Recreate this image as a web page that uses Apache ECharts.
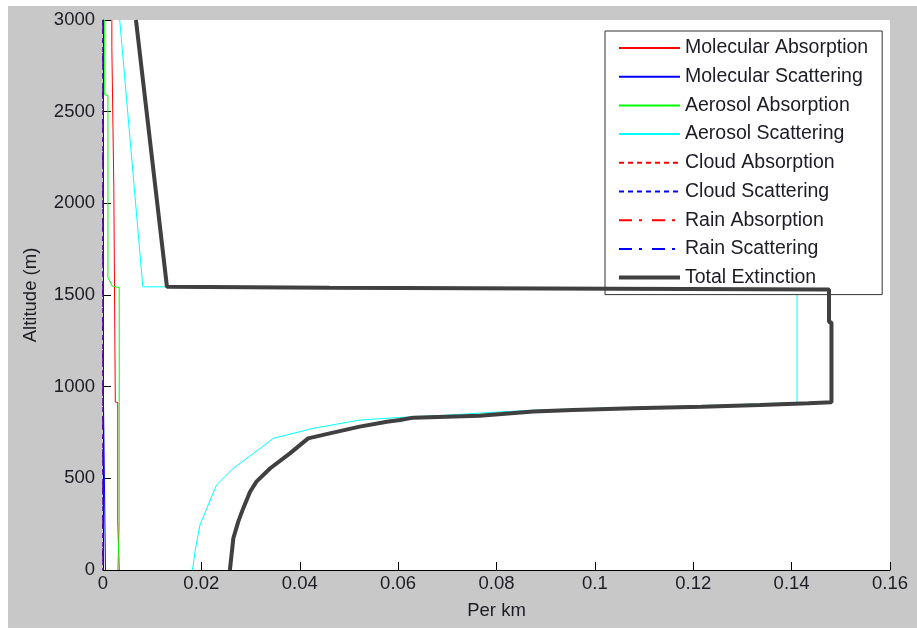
<!DOCTYPE html>
<html>
<head>
<meta charset="utf-8">
<script src="https://cdn.jsdelivr.net/npm/echarts@6/dist/echarts.min.js"></script>
<style>html,body{margin:0;padding:0;background:#fff}#c{width:917px;height:630px}</style>
</head>
<body>
<div id="c"></div>
<script>
// ---- data: [value (per km), altitude (m)] ----
const seriesNames = ['Molecular Absorption','Molecular Scattering','Aerosol Absorption','Aerosol Scattering','Cloud Absorption','Cloud Scattering','Rain Absorption','Rain Scattering','Total Extinction'];
const xTicks = [0,0.02,0.04,0.06,0.08,0.1,0.12,0.14,0.16];
const yTicks = [0,500,1000,1500,2000,2500,3000];

const molAbsVal = [0.0018,0.0018,0.0022,0.0022,0.0025,0.0025,0.0030,0.0030,0.0033,0.0033];
const molAbsAlt = [3000,2850,2848,2086,2084,916,914,272,270,0];

const molScaVal = [0.0001,0.0001,0.0005,0.0005];
const molScaAlt = [3000,912,908,0];

const aerAbsVal = [0.00035,0.00035,0.0010,0.0010,0.0016,0.0018,0.0033,0.0033,0.0030,0.0030];
const aerAbsAlt = [3000,2591,2589,1595,1565,1550,1540,236,234,0];

const aerScaVal = [0.0034,0.0081,0.046,0.1411,0.1411,0.1364,0.1266,0.1147,0.1008,0.0886,0.0807,0.0700,0.0597,0.0522,0.0428,0.0346,0.0306,0.0265,0.0231,0.0211,0.0197,0.0187,0.0182];
const aerScaAlt = [3000,1545,1540,1530,913,909,900,891,882,873,862,845,831,818,773,718,636,555,464,336,245,100,0];

const zeroVal = [0,0];
const zeroAlt = [3000,0];

const totVal = [0.0067,0.0130,0.046,0.1476,0.1476,0.1481,0.1481,0.1434,0.1336,0.1217,0.1078,0.0956,0.0875,0.0766,0.0631,0.0604,0.0577,0.0522,0.0461,0.0417,0.0380,0.0340,0.0312,0.0299,0.0285,0.0275,0.0265,0.0258];
const totAlt = [3000,1545,1540,1530,1353,1350,915,909,900,891,882,873,864,842,831,818,809,782,745,718,636,555,482,427,336,264,173,0];

const pair = (v,a) => v.map((x,i)=>[x,a[i]]);
const FONT = "'Liberation Sans', Arial, sans-serif";
const TXT = '#1c1c24';

function ln(name, v, a, color, width, type){
  return {name, type:'line', data:pair(v,a), symbol:'none', showSymbol:false,
    lineStyle:{color, width, type}, itemStyle:{color}, animation:false, silent:true, z: name==='Total Extinction'?5:3};
}

const legendData = seriesNames.map(n => n === 'Total Extinction'
  ? {name:n, lineStyle:{width:4, color:'#404040'}}
  : {name:n});

const chart = echarts.init(document.getElementById('c'), null, {renderer:'canvas'});
chart.setOption({
  backgroundColor:'#c8c8c8',
  animation:false,
  graphic:[
    {type:'rect', shape:{x:0,y:0,width:917,height:6}, style:{fill:'#ffffff'}, silent:true},
    {type:'rect', shape:{x:0,y:0,width:8,height:630}, style:{fill:'#ffffff'}, silent:true},
    {type:'rect', shape:{x:0,y:628,width:917,height:2}, style:{fill:'#ffffff'}, silent:true}
  ],
  grid:{left:103, right:27, top:20, bottom:60, show:true, backgroundColor:'#ffffff', borderWidth:0},
  xAxis:{type:'value', min:0, max:0.16, interval:0.02,
    name:'Per km', nameLocation:'middle', nameGap:31,
    nameTextStyle:{fontFamily:FONT, fontSize:18.5, color:TXT},
    axisLine:{show:true, onZero:false, lineStyle:{color:'#000', width:1}},
    axisTick:{show:true, inside:true, length:8, lineStyle:{color:'#000'}},
    axisLabel:{fontFamily:FONT, fontSize:18.5, color:TXT, margin:4, showMinLabel:true, showMaxLabel:true,
      formatter: v => String(+v.toFixed(4))},
    splitLine:{show:false}},
  yAxis:{type:'value', min:0, max:3000, interval:500,
    name:'Altitude (m)', nameLocation:'middle', nameGap:63,
    nameTextStyle:{fontFamily:FONT, fontSize:18.5, color:TXT},
    axisLine:{show:true, onZero:false, lineStyle:{color:'#000', width:1}},
    axisTick:{show:true, inside:true, length:8, lineStyle:{color:'#000'}},
    axisLabel:{fontFamily:FONT, fontSize:18.5, color:TXT, margin:8, formatter: v => String(v)},
    splitLine:{show:false}},
  legend:{data:legendData, orient:'vertical', left:605, top:31,
    padding:[7,14,7,12], itemGap:8.7, itemWidth:61, itemHeight:14,
    backgroundColor:'#ffffff', borderColor:'#333', borderWidth:1,
    itemStyle:{opacity:0},
    textStyle:{fontFamily:FONT, fontSize:19.5, color:TXT, lineHeight:20},
    selectedMode:false},
  series:[
    ln(seriesNames[0], molAbsVal, molAbsAlt, '#ff0000', 1, 'solid'),
    ln(seriesNames[1], molScaVal, molScaAlt, '#0000ff', 1, 'solid'),
    ln(seriesNames[2], aerAbsVal, aerAbsAlt, '#00ff00', 1, 'solid'),
    ln(seriesNames[3], aerScaVal, aerScaAlt, '#00ffff', 1, 'solid'),
    ln(seriesNames[4], zeroVal, zeroAlt, '#ff0000', 1, [5,4]),
    ln(seriesNames[5], zeroVal, zeroAlt, '#0000ff', 1, [5,4]),
    ln(seriesNames[6], zeroVal, zeroAlt, '#ff0000', 1, [13,7,3,10]),
    ln(seriesNames[7], zeroVal, zeroAlt, '#0000ff', 1, [13,7,3,10]),
    ln(seriesNames[8], totVal, totAlt, '#404040', 4, 'solid')
  ]
});
</script>
</body>
</html>
